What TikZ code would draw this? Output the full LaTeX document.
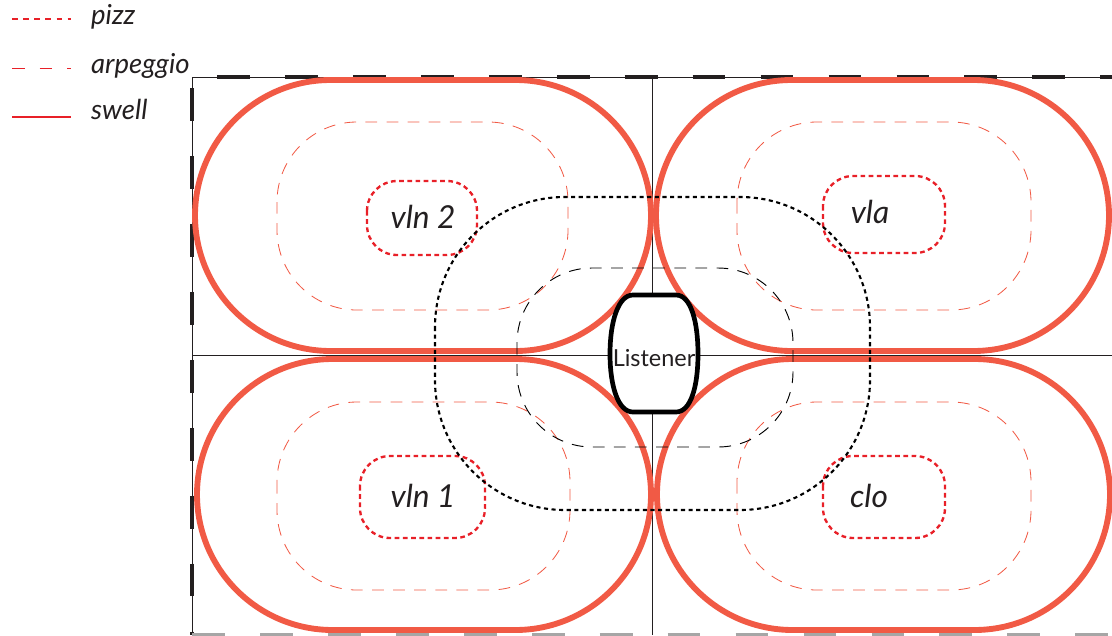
\documentclass[tikz,border=0pt]{standalone}
\usepackage{fontspec}
\newfontfamily\labfont{Lato}
\definecolor{swellred}{HTML}{F15A45}
\definecolor{pizzred}{HTML}{E82028}
\definecolor{inkgray}{HTML}{231F20}

\begin{document}
\begin{tikzpicture}[
    x=0.03cm, y=-0.03cm,
    swell/.style={draw=swellred, line width=5pt},
    arpeggio/.style={draw=swellred, line width=0.7pt, dash pattern=on 10pt off 8pt},
    pizz/.style={draw=pizzred, line width=2pt, dash pattern=on 4pt off 3pt},
    zone/.style={draw=black, line width=1.8pt, dash pattern=on 3.5pt off 3pt},
    nearzone/.style={draw=black, line width=0.8pt, dash pattern=on 10pt off 8pt},
    axis/.style={draw=inkgray, line width=0.8pt},
    part/.style={font=\labfont\itshape\fontsize{27}{30}\selectfont, text=inkgray},
    legend/.style={font=\labfont\itshape\fontsize{23.5}{26}\selectfont, text=inkgray, anchor=west}
]
\useasboundingbox (0,0) rectangle (1112,635);

% legend
\draw[pizz, line width=2.5pt, dash pattern=on 5pt off 4.5pt] (12,19) -- (71,19);
\node[legend] (pizztxt) at (87,17) {pizz};
\draw[arpeggio, draw=pizzred, line width=0.8pt, dash pattern=on 11pt off 12.5pt] (12,68) -- (71,68);
\node[legend] (arptxt) at (87,66) {arpeggio};
\draw[draw=pizzred, line width=2.5pt] (12,117) -- (71,117);
\node[legend] (swelltxt) at (87,109) {swell};

% frame and axes
\draw[axis] (192,635) -- (192,77) -- (1112,77);
\draw[line width=3pt, draw=inkgray, dash pattern=on 28pt off 30pt] (192,88) -- (192,635);
\draw[line width=3pt, draw=inkgray, dash pattern=on 28pt off 30pt] (217,77) -- (1112,77);
\draw[line width=3pt, draw=black!35, dash pattern=on 28pt off 30pt] (192,634.5) -- (1112,634.5);
\draw[axis] (652,77) -- (652,635);
\draw[axis] (192,355) -- (1112,355);

% arpeggio zones
\draw[arpeggio, rounded corners=2.4cm] (277,122) rectangle (568,310);
\draw[arpeggio, rounded corners=2.4cm] (737,122) rectangle (1031,310);
\draw[arpeggio, rounded corners=2.4cm] (277,402) rectangle (570,590);
\draw[arpeggio, rounded corners=2.4cm] (737,402) rectangle (1031,590);

% swell zones
\draw[swell, rounded corners=4.07cm] (195,80) rectangle (651,351);
\draw[swell, rounded corners=4.07cm] (656,80) rectangle (1109,351);
\draw[swell, rounded corners=4.07cm] (197,359) rectangle (651,630);
\draw[swell, rounded corners=4.07cm] (657,359) rectangle (1110,630);

% pizz zones
\draw[pizz, rounded corners=0.9cm] (367,181) rectangle (477,255);
\draw[pizz, rounded corners=0.9cm] (823,176) rectangle (945,253);
\draw[pizz, rounded corners=0.9cm] (360,456) rectangle (485,538);
\draw[pizz, rounded corners=0.9cm] (823,456) rectangle (945,538);

% listener zones
\draw[zone, rounded corners=3.9cm] (435,197) rectangle (870,510);
\draw[nearzone, rounded corners=2.25cm] (517,268) rectangle (793,447);

% listener
\draw[draw=black, line width=4pt, fill=white]
    (633,295) -- (676,295) .. controls (691,295) and (698,322) .. (698,354)
    .. controls (698,386) and (691,412) .. (676,412) -- (633,412)
    .. controls (618,412) and (610,386) .. (610,354)
    .. controls (610,322) and (618,295) .. (633,295) -- cycle;
\node[font=\labfont\fontsize{20}{22}\selectfont, text=inkgray] (listener) at (654,358) {Listener};

% instruments
\node[part] (vlntwo) at (423,217) {vln 2};
\node[part] (vla) at (870,212) {vla};
\node[part] (vlnone) at (423,496) {vln 1};
\node[part] (clo) at (869,496) {clo};

\end{tikzpicture}
\end{document}
